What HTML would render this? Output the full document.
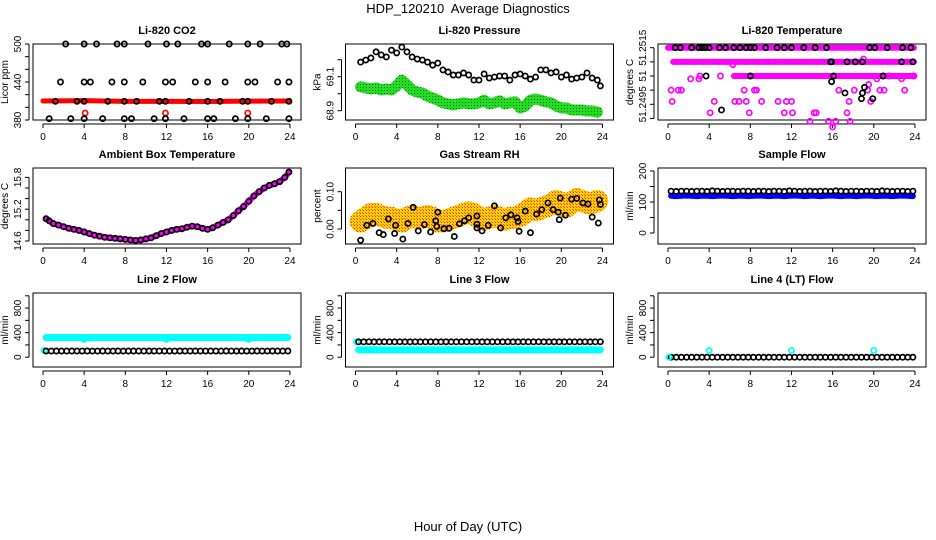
<!DOCTYPE html>
<html><head><meta charset="utf-8">
<style>
body{margin:0;background:#fff;}
svg{display:block;font-family:"Liberation Sans",sans-serif;}
</style></head>
<body>
<svg id="chart" width="936" height="540" viewBox="0 0 936 540" xmlns="http://www.w3.org/2000/svg">
<defs>
<pattern id="rhpat" width="3" height="3" patternUnits="userSpaceOnUse"><rect width="3" height="3" fill="#ffd000"/><rect width="1" height="1" fill="#f03000"/><rect x="2" y="2" width="1" height="1" fill="#f06000"/></pattern>
<pattern id="grpat" width="3" height="3" patternUnits="userSpaceOnUse"><rect width="3" height="3" fill="#22dd22"/><rect width="1" height="1" fill="#116611"/></pattern>
</defs>
<text x="468" y="13" text-anchor="middle" font-size="13" style="white-space:pre">HDP_120210&#160; Average Diagnostics</text>
<text x="468" y="531" text-anchor="middle" font-size="13">Hour of Day (UTC)</text>
</svg>
<script>
// ---- data ----
const xTicks=[0,4,8,12,16,20,24];
const co2Hours500=[2.2,4,5.2,7.2,7.9,10.2,12,13.1,15.4,16,18.1,19.9,21.1,23.2,23.7];
const co2Hours440=[1.7,4,4.6,6.7,7.9,9.7,11.9,12.6,14.8,16,17.7,19.9,20.6,22.8,23.9];
const co2Hours410=[1.2,3.3,4,6.3,7.9,9.1,11.3,11.9,14.2,16,17.2,19.4,19.9,22.2,23.9];
const co2Hours382=[0.6,2.7,4,5.8,7.9,8.6,10.8,11.9,13.7,16,16.6,18.7,19.9,21.7,23.9];
const co2RedHours=[0,4,8,12,16,20,23.9];
const co2RedVals=[410,410.5,409.5,409.5,409.2,409.8,410];
const co2RedOutHours=[4.1,11.9,19.9];
const co2RedOutVals=[391,391,391];

const halfHours=[0.5,1,1.5,2,2.5,3,3.5,4,4.5,5,5.5,6,6.5,7,7.5,8,8.5,9,9.5,10,10.5,11,11.5,12,12.5,13,13.5,14,14.5,15,15.5,16,16.5,17,17.5,18,18.5,19,19.5,20,20.5,21,21.5,22,22.5,23,23.5];
const presGreen=[69.040,69.034,69.028,69.034,69.022,69.028,69.022,69.046,69.080,69.052,69.022,69.010,69.004,68.986,68.974,68.962,68.946,68.940,68.934,68.940,68.946,68.940,68.940,68.946,68.962,68.940,68.946,68.958,68.940,68.946,68.952,68.916,68.928,68.962,68.968,68.962,68.952,68.946,68.928,68.916,68.916,68.904,68.904,68.904,68.898,68.898,68.892];
const presBlackHours=[0.5,1,1.5,2,2.5,3,3.5,4,4.5,5,5.5,6,6.5,7,7.5,8,8.5,9,9.5,10,10.5,11,11.5,12,12.5,13,13.5,14,14.5,15,15.5,16,16.5,17,17.5,18,18.5,19,19.5,20,20.5,21,21.5,22,22.5,23,23.5,23.8];
const presBlack=[69.186,69.198,69.210,69.246,69.228,69.216,69.256,69.240,69.274,69.246,69.216,69.204,69.198,69.186,69.168,69.180,69.140,69.128,69.110,69.110,69.122,69.110,69.080,69.080,69.116,69.092,69.098,69.104,69.104,69.080,69.110,69.116,69.104,69.086,69.098,69.140,69.140,69.122,69.128,69.098,69.110,69.086,69.092,69.098,69.122,69.092,69.080,69.046];

const tempBandStart=[0.0,0.5,6.4];
const tempBandEnd=[23.9,23.9,23.9];
const tempBandLevel=[51.2515,51.25125,51.251];
const tempMagHours=[0.3,0.4,1.0,1.3,4.5,7.4,2.2,3.0,3.1,5.1,6.3,6.5,6.9,7.6,8.4,8.6,9.1,10.7,11.3,11.5,12.0,13.8,14.4,15.6,16.3,16.6,17.4,17.6,18.1,19.7,20.6,21.0,21.5,23.0,23.9,19.0,19.5,20.3,22.7,4.1,7.9,12.1,14.2,16.0,17.7,19.4];
const tempMagLevel=[51.25075,51.25055,51.25075,51.25075,51.25055,51.25075,51.25095,51.25095,51.2510,51.2510,51.2512,51.25055,51.25055,51.25055,51.25075,51.25075,51.25055,51.25055,51.25035,51.25055,51.25055,51.2502,51.25035,51.2502,51.2502,51.25075,51.25035,51.25055,51.25075,51.25055,51.25075,51.25075,51.2510,51.25075,51.2510,51.2513,51.25085,51.25095,51.25095,51.25035,51.25035,51.25035,51.25035,51.2501,51.2502,51.25075];
const tempBlackHours=[0.7,1.2,2.3,3.0,3.3,3.6,4.0,5.0,5.6,6.4,7.0,7.6,8.0,8.4,9.5,10.6,11.3,12.0,13.2,14.3,15.4,15.8,15.9,17.4,18.9,19.6,20.1,21.3,22.8,23.6,3.7,8.0,16.1,5.2,15.9,17.2,18.8,18.9,19.9,20.9,22.7,23.8,19.1,18.2];
const tempBlackLevel=[51.2515,51.2515,51.2515,51.2515,51.2515,51.2515,51.2515,51.2515,51.2515,51.2515,51.2515,51.2515,51.2515,51.2515,51.2515,51.2515,51.2515,51.2515,51.2515,51.2515,51.2515,51.25125,51.25125,51.25125,51.25125,51.2515,51.2515,51.2515,51.2515,51.2515,51.251,51.251,51.251,51.2504,51.2509,51.2507,51.2506,51.2507,51.2506,51.251,51.25125,51.25125,51.2508,51.25125];

const ambHours=[0.3,0.6,1,1.5,2,2.5,3,3.5,4,4.5,5,5.5,6,6.5,7,7.5,8,8.5,9,9.5,10,10.5,11,11.5,12,12.5,13,13.5,14,14.5,15,15.5,16,16.5,17,17.5,18,18.5,19,19.5,20,20.5,21,21.5,22,22.5,23,23.5,23.9];
const ambTemp=[15.02,14.98,14.93,14.90,14.87,14.84,14.82,14.80,14.77,14.74,14.71,14.69,14.67,14.66,14.65,14.64,14.63,14.62,14.61,14.62,14.64,14.66,14.70,14.74,14.77,14.80,14.82,14.83,14.86,14.88,14.87,14.84,14.82,14.85,14.90,14.95,15.00,15.08,15.17,15.25,15.35,15.45,15.53,15.60,15.65,15.68,15.72,15.80,15.90];

const rhBand=[0.02,0.03,0.04,0.04,0.035,0.03,0.03,0.025,0.02,0.03,0.035,0.03,0.03,0.035,0.03,0.02,0.02,0.025,0.03,0.035,0.04,0.045,0.04,0.03,0.025,0.03,0.035,0.03,0.025,0.03,0.03,0.035,0.045,0.055,0.05,0.055,0.06,0.065,0.075,0.07,0.06,0.07,0.08,0.075,0.07,0.07,0.075];
const rhBlackHours=[0.5,1.1,1.7,2.3,2.7,3.2,3.9,3.8,4.6,5.1,5.6,6.1,6.7,7.3,7.8,7.9,8.0,8.6,9.1,9.6,10.1,10.6,11.0,11.8,11.8,11.8,12.3,12.9,13.5,14.1,14.6,15.1,15.7,15.8,15.9,16.5,17.0,17.6,18.1,18.7,19.2,19.7,19.8,19.9,20.4,21.0,21.5,22.1,22.6,23.0,23.6,23.7,23.8];
const rhBlack=[-0.03,0.01,0.015,-0.01,-0.015,0.027,0.01,-0.012,-0.027,0.015,0.058,-0.005,0.012,-0.008,0.022,0.007,0.045,0.001,0.002,-0.02,0.014,0.022,0.03,0.035,0.013,0.003,-0.005,0.01,0.062,0.003,0.03,0.038,0.03,0.02,-0.006,0.048,-0.01,0.04,0.052,0.07,0.052,0.045,0.025,0.083,0.037,0.08,0.082,0.07,0.067,0.032,0.016,0.078,0.066];

const flowHours=[0.3,0.8,1.3,1.8,2.3,2.8,3.3,3.8,4.3,4.8,5.3,5.8,6.3,6.8,7.3,7.8,8.3,8.8,9.3,9.8,10.3,10.8,11.3,11.8,12.3,12.8,13.3,13.8,14.3,14.8,15.3,15.8,16.3,16.8,17.3,17.8,18.3,18.8,19.3,19.8,20.3,20.8,21.3,21.8,22.3,22.8,23.3,23.8];
const sampleBlack=[135,134,135,135,134,135,135,134,136,135,134,135,135,134,135,135,134,135,135,134,135,135,134,136,135,134,135,135,134,135,135,134,136,135,134,135,135,134,135,135,134,136,135,134,135,135,134,135];
const sampleBlue=[120,119,120,121,120,119,120,120,119,120,121,120,119,120,120,119,120,121,120,119,120,120,119,120,121,120,119,120,120,119,120,121,120,119,120,120,119,120,121,120,119,120,120,119,120,121,120,119];
const line2Cyan=[320,321,320,320,321,320,320,321,318,320,321,320,320,321,320,320,321,320,320,321,320,320,321,318,320,321,320,320,321,320,320,321,320,320,321,320,320,321,320,318,320,321,320,320,321,320,320,321];
const line2DipHours=[4,12,20];
const line2DipVals=[290,290,290];
const line2Black=[100,100,101,100,100,101,100,100,101,100,100,101,100,100,101,100,100,101,100,100,101,100,100,101,100,100,101,100,100,101,100,100,101,100,100,101,100,100,101,100,100,101,100,100,101,100,100,101];
const line3Black=[250,250,251,250,250,251,250,250,251,250,250,251,250,250,251,250,250,251,250,250,251,250,250,251,250,250,251,250,250,251,250,250,251,250,250,251,250,250,251,250,250,251,250,250,251,250,250,251];
const line3Cyan=[120,119,120,121,120,119,120,120,119,120,121,120,119,120,120,119,120,121,120,119,120,120,119,120,121,120,119,120,120,119,120,121,120,119,120,120,119,120,121,120,119,120,120,119,120,121,120,119];
const line4Black=[0,0,0,0,0,0,0,0,0,0,0,0,0,0,0,0,0,0,0,0,0,0,0,0,0,0,0,0,0,0,0,0,0,0,0,0,0,0,0,0,0,0,0,0,0,0,0,0];
const line4CyanHours=[0.1,4,12,20];
const line4CyanVals=[0,110,110,110];

// ---- drawing ----
const svg=document.getElementById('chart');
const NS='http://www.w3.org/2000/svg';
function mk(tag,attrs,parent){const e=document.createElementNS(NS,tag);for(const k in attrs)e.setAttribute(k,attrs[k]);(parent||svg).appendChild(e);return e;}

const colL=[33,345.5,658];
const rowT=[44,168,293],rowB=[120,244,367];
function makePanel(c,r,name,title,ytitle,ymap,yticks,ylabels){
  const g=mk('g',{});
  
  
  const L=colL[c],R=L+268,T=rowT[r],B=rowB[r];
  const x=h=>L+10+h*10.29;
  const y=ymap(T,B);
  const t=mk('text',{x:(L+R)/2,y:T-10,'text-anchor':'middle','font-size':11,'font-weight':'bold'},g);
  t.textContent=title;
  
  
  const box=mk('rect',{x:L,y:T,width:R-L,height:B-T,fill:'none',stroke:'#000','stroke-width':1},g);
  
  
  const xa=mk('g',{},g);
  
  
  mk('line',{x1:x(xTicks[0]),x2:x(xTicks[xTicks.length-1]),y1:B+4,y2:B+4,stroke:'#000'},xa);
  xTicks.forEach(v=>{
    mk('line',{x1:x(v),x2:x(v),y1:B+4,y2:B+8,stroke:'#000'},xa);
    const tl=mk('text',{x:x(v),y:B+20,'text-anchor':'middle','font-size':10},xa);
    tl.textContent=v;
    
    
  });
  const ya=mk('g',{},g);
  
  
  const ys=yticks.map(y);
  mk('line',{x1:L-4,x2:L-4,y1:Math.min(...ys),y2:Math.max(...ys),stroke:'#000'},ya);
  yticks.forEach((v,i)=>{
    mk('line',{x1:L-8,x2:L-4,y1:y(v),y2:y(v),stroke:'#000'},ya);
    if(ylabels[i]){
      const tl=mk('text',{x:L-12,y:y(v),'text-anchor':'middle','font-size':10,transform:`rotate(-90 ${L-12} ${y(v)})`},ya);
      tl.textContent=ylabels[i];
      
      
    }
  });
  const yt=mk('text',{x:L-25,y:(T+B)/2,'text-anchor':'middle','font-size':10,transform:`rotate(-90 ${L-25} ${(T+B)/2})`},g);
  yt.textContent=ytitle;
  
  
  return {g,x,y,L,R,T,B};
}
function lin(lo,hi){return (T,B)=>v=>B-(v-lo)/(hi-lo)*(B-T);}
function circles(p,hs,vs,color,nm,r,sw){
  const gg=mk('g',{},p.g);
  
  
  hs.forEach((h,i)=>{const c=mk('circle',{cx:p.x(h),cy:p.y(vs[i]),r:r||2.6,fill:'none',stroke:color,'stroke-width':sw||1.7},gg);
    
    });
}
function band(p,hs,vs,color,w,nm){
  const pl=mk('polyline',{points:hs.map((h,i)=>p.x(h)+','+p.y(vs[i])).join(' '),fill:'none',stroke:color,'stroke-width':w,'stroke-linejoin':'round','stroke-linecap':'round'},p.g);
  
  
}

let p=makePanel(0,0,'co2','Li-820 CO2','Licor ppm',lin(380,500),[380,400,420,440,460,480,500],['380','','','440','','','500']);
band(p,co2RedHours,co2RedVals,'#ff0000',5,'co2-red-band');
circles(p,co2RedOutHours,co2RedOutVals,'#ff0000','co2-red-outlier');
circles(p,co2Hours500,co2Hours500.map(()=>500),'#000','co2-black-500');
circles(p,co2Hours440,co2Hours440.map(()=>440),'#000','co2-black-440');
circles(p,co2Hours410,co2Hours410.map(()=>409.5),'#000','co2-black-410');
circles(p,co2Hours382,co2Hours382.map(()=>382),'#000','co2-black-382');

p=makePanel(1,0,'pressure','Li-820 Pressure','kPa',(T,B)=>v=>76.7-(v-69.1)/0.00588,[68.9,69.0,69.1,69.2],['68.9','','69.1','']);
band(p,halfHours,presGreen,'url(#grpat)',11,'pressure-green-band');
circles(p,presBlackHours,presBlack,'#000','pressure-black');

p=makePanel(2,0,'li820-temp','Li-820 Temperature','degrees C',(T,B)=>v=>47.7+(51.2515-v)/0.0005*28.3,[51.2515,51.25125,51.251,51.25075,51.2505,51.25025],['51.2515','','51','','51.2495','']);
tempBandStart.forEach((s,i)=>band(p,[s,tempBandEnd[i]],[tempBandLevel[i],tempBandLevel[i]],'#ff00ff',6,'temp-band-'+i));
circles(p,tempMagHours,tempMagLevel,'#ff00ff','temp-magenta');
circles(p,tempBlackHours,tempBlackLevel,'#000','temp-black');

p=makePanel(0,1,'ambient','Ambient Box Temperature','degrees C',(T,B)=>v=>241-(v-14.6)*53,[14.6,14.8,15.0,15.2,15.4,15.6,15.8],['14.6','','','15.2','','','15.8']);
band(p,ambHours,ambTemp,'#ff00ff',6,'ambient-magenta-line');
circles(p,ambHours,ambTemp,'#000','ambient-black');

p=makePanel(1,1,'gas-rh','Gas Stream RH','percent',(T,B)=>v=>229-v*373,[0,0.05,0.10],['0.00','','0.10']);
band(p,halfHours,rhBand,'url(#rhpat)',22,'rh-orange-band');
circles(p,rhBlackHours,rhBlack,'#000','rh-black');

p=makePanel(2,1,'sample-flow','Sample Flow','ml/min',(T,B)=>v=>233-v*0.31,[0,50,100,150,200],['0','','100','','200']);
band(p,flowHours,sampleBlue,'#0000ff',6,'sample-blue-band');
circles(p,flowHours,sampleBlack,'#000','sample-black');

const flowMap=(T,B)=>v=>357.2-v*0.0614;
const flowTicks=[0,200,400,600,800,1000],flowLabels=['0','','400','','800',''];
p=makePanel(0,2,'line2','Line 2 Flow','ml/min',flowMap,flowTicks,flowLabels);
band(p,flowHours,line2Cyan,'#00ffff',7,'line2-cyan-band');
circles(p,line2DipHours,line2DipVals,'#00ffff','line2-cyan-dip');
circles(p,[0.1],[110],'#00ffff','line2-cyan-start');
circles(p,flowHours,line2Black,'#000','line2-black');
p=makePanel(1,2,'line3','Line 3 Flow','ml/min',flowMap,flowTicks,flowLabels);
band(p,flowHours,line3Cyan,'#00ffff',7,'line3-cyan-band');
circles(p,[0.1],[250],'#00ffff','line3-cyan-start');
circles(p,flowHours,line3Black,'#000','line3-black');
p=makePanel(2,2,'line4','Line 4 (LT) Flow','ml/min',flowMap,flowTicks,flowLabels);
circles(p,flowHours,line4Black,'#000','line4-black');
circles(p,line4CyanHours,line4CyanVals,'#00ffff','line4-cyan');
</script>
</body></html>
